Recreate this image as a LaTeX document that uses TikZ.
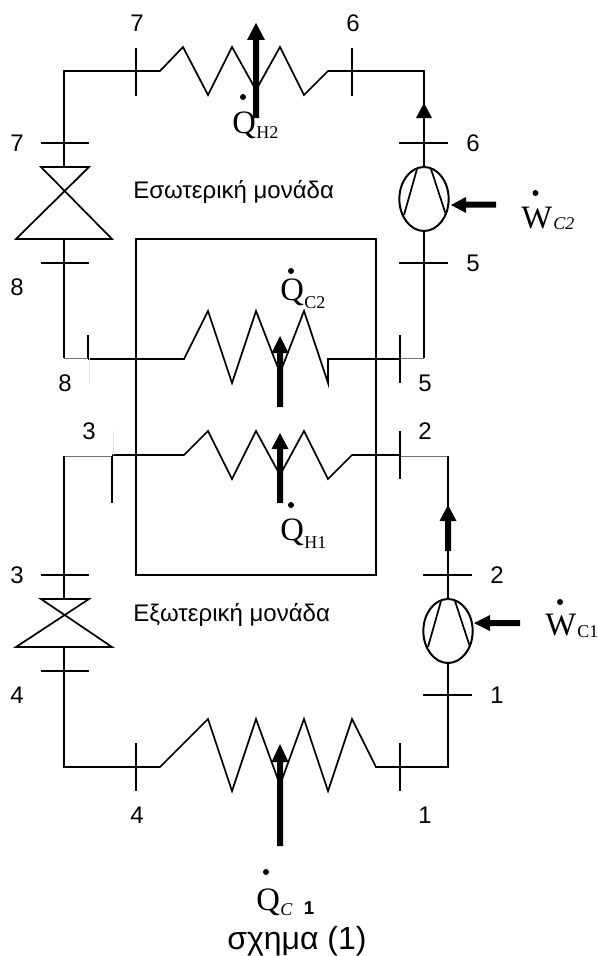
\documentclass[tikz,border=0pt]{standalone}
\usepackage{fontspec}
\usetikzlibrary{shapes.geometric}
\setmainfont{Liberation Serif}
\setsansfont{Liberation Sans}
\begin{document}
\begin{tikzpicture}[x=0.75pt,y=-0.75pt,
  pipe/.style={line width=1.3pt,line join=miter},
  faint/.style={line width=0.7pt,draw=black!55},
  ghost/.style={line width=0.5pt,draw=black!12},
  thin tick/.style={line width=1.1pt},
  housing/.style={line width=1.4pt},
  heatarrow/.style={fill=black,draw=none},
  txt/.style={inner sep=0pt,font=\sffamily\fontsize{18}{18}\selectfont},
  qsym/.style={inner sep=0pt,anchor=base west,font=\rmfamily\fontsize{24.5}{24.5}\selectfont},
  qsub/.style={inner sep=0pt,anchor=base west,font=\rmfamily\fontsize{13.5}{13.5}\selectfont},
  qsubi/.style={inner sep=0pt,anchor=base west,font=\rmfamily\itshape\fontsize{13.5}{13.5}\selectfont},
  comp/.style={draw,shape=ellipse,minimum width=37pt,minimum height=48pt,inner sep=0pt,line width=1.5pt}]
\useasboundingbox (0,0) rectangle (598,956);
% outer box
\draw[housing] (136,239) rectangle (376,575);

% compressors
\node[comp] (cTwo) at (424,199) {};
\node[comp] (cOne) at (448,631) {};
\draw[pipe] (417,169) -- (404,215) (431,169) -- (446,215);
\draw[pipe] (441,601) -- (428,647) (455,601) -- (470,647);

% valve coordinates
\coordinate (vTopA) at (64,167);
\coordinate (vBotA) at (64,239);
\coordinate (vTopB) at (64,599);
\coordinate (vBotB) at (64,647);
% upper valve
\draw[pipe] (41,167) -- (89,167) -- (16,239) -- (112,239) -- cycle;
% lower valve
\draw[pipe] (41,599) -- (89,599) -- (16,647) -- (112,647) -- cycle;

% top circuit
\coordinate (tl) at (64,71);
\coordinate (tr) at (424,71);
\draw[pipe] (vTopA) -- (tl) -- (160,71) -- (183,47) -- (208,95) -- (232,47) -- (256,90) -- (280,47) -- (304,95) -- (328,71) -- (tr) -- (cTwo.north);
\coordinate (mr) at (424,358);
\coordinate (ml) at (64,358);
\draw[pipe] (cTwo.south) -- (mr);
\draw[pipe] (vBotA) -- (ml);

% middle heat exchangers
\draw[faint] (ml) -- (88,358);
\draw[pipe] (88,359) -- (184,359) -- (208,311) -- (232,383) -- (256,311) -- (280,373) -- (304,311) -- (328,383) -- (328,359) -- (400,359);
\draw[faint] (400,358) -- (mr);
\coordinate (lr) at (448,456);
\coordinate (ll) at (64,456);
\draw[faint] (ll) -- (112,456);
\draw[pipe] (112,455) -- (184,455) -- (208,431) -- (232,479) -- (256,431) -- (280,475) -- (304,431) -- (328,479) -- (352,455) -- (400,455);
\draw[faint] (400,456) -- (lr);
\draw[pipe] (ll) -- (vTopB);
\draw[pipe] (lr) -- (cOne.north);

% bottom circuit
\coordinate (bl) at (64,767);
\coordinate (br) at (448,767);
\draw[pipe] (vBotB) -- (bl) -- (160,767) -- (208,719) -- (232,791) -- (256,719) -- (280,785) -- (304,719) -- (328,791) -- (352,719) -- (376,767) -- (br) -- (cOne.south);

% ticks
\draw[thin tick] (136,48) -- (136,96) (352,48) -- (352,96);
\draw[thin tick] (41,143) -- (89,143) (41,263) -- (89,263) (399,143) -- (448,143) (399,263) -- (448,263);
\draw[thin tick] (88,335) -- (88,358);
\draw[ghost] (89,358) -- (89,383);
\draw[thin tick] (400,335) -- (400,383);
\draw[thin tick] (112,456) -- (112,503);
\draw[ghost] (113,431) -- (113,455);
\draw[thin tick] (400,431) -- (400,479);
\draw[thin tick] (41,575) -- (89,575) (41,671) -- (89,671) (423,575) -- (472,575) (423,695) -- (472,695);
\draw[thin tick] (136,743) -- (136,791) (400,743) -- (400,791);

% arrows
\fill[heatarrow] (253,118) -- (253,40) -- (247,40) -- (256,23) -- (265,40) -- (259,40) -- (259,118) -- cycle;
\fill[heatarrow] (277,407) -- (277,353) -- (271.5,353) -- (280,336) -- (288.5,353) -- (283,353) -- (283,407) -- cycle;
\fill[heatarrow] (277,503) -- (277,449) -- (271.5,449) -- (280,433) -- (288.5,449) -- (283,449) -- (283,503) -- cycle;
\fill[heatarrow] (277,846) -- (277,762) -- (271.5,762) -- (280,744) -- (288.5,762) -- (283,762) -- (283,846) -- cycle;
\fill[heatarrow] (424,103) -- (432,118) -- (416,118) -- cycle;
\fill[heatarrow] (445,551) -- (445,521) -- (439.5,521) -- (448,505) -- (456.5,521) -- (451,521) -- (451,551) -- cycle;
\fill[heatarrow] (496,201.5) -- (466,201.5) -- (466,197) -- (451,205) -- (466,213) -- (466,207.5) -- (496,207.5) -- cycle;
\fill[heatarrow] (520,620) -- (490,620) -- (490,615) -- (474,623) -- (490,631) -- (490,626) -- (520,626) -- cycle;

% numbers
\node[txt] (n7a) at (137,23) {7};
\node[txt] (n6a) at (353,23) {6};
\node[txt] (n7b) at (17,143) {7};
\node[txt] (n6b) at (473,143) {6};
\node[txt] (n8a) at (17,287) {8};
\node[txt] (n5a) at (473,263) {5};
\node[txt] (n8b) at (65,383) {8};
\node[txt] (n5b) at (425,383) {5};
\node[txt] (n3a) at (89,431) {3};
\node[txt] (n2a) at (425,431) {2};
\node[txt] (n3b) at (17,575) {3};
\node[txt] (n2b) at (497,575) {2};
\node[txt] (n4a) at (17,695) {4};
\node[txt] (n1a) at (497,695) {1};
\node[txt] (n4b) at (137,815) {4};
\node[txt] (n1b) at (425,815) {1};
\node[txt,anchor=base west] (inner) at (133,198) {Εσωτερική μονάδα};
\node[txt,anchor=base west] (outer) at (133,621) {Εξωτερική μονάδα};
\node[txt,anchor=base,font=\sffamily\fontsize{24}{24}\selectfont] (cap) at (297,949) {σχημα (1)};

% symbols
\node[qsym] (qh2) at (232,133) {Q};
\node[qsub] (qh2s) at (256,138) {H2};
\fill (243,97) circle (3);
\node[qsym] (qc2) at (280,300) {Q};
\node[qsub] (qc2s) at (304,308) {C2};
\fill (291,271) circle (3);
\node[qsym] (qh1) at (280,540) {Q};
\node[qsub] (qh1s) at (304,548) {H1};
\fill (291,505) circle (3);
\node[qsym] (qc1) at (256,910) {Q};
\node[qsubi] (qc1s) at (280,915) {C};
\node[inner sep=0pt,font=\sffamily\bfseries\fontsize{14}{14}\selectfont] (qc1n) at (309,908) {1};
\fill (266,872) circle (3);
\node[qsym] (wc2) at (521,228) {W};
\node[qsubi] (wc2s) at (553,229) {C2};
\fill (535.5,193) circle (3);
\node[qsym] (wc1) at (545,635) {W};
\node[qsub] (wc1s) at (577,637) {C1};
\fill (560,602) circle (3);
\end{tikzpicture}
\end{document}
